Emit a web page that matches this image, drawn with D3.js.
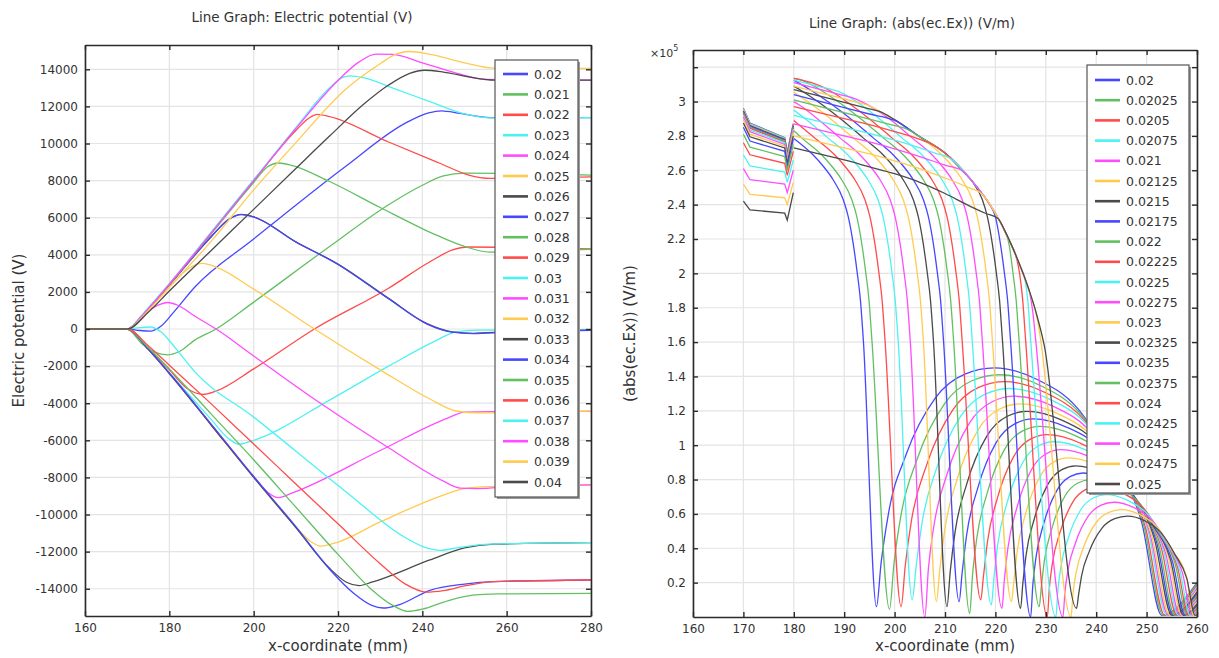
<!DOCTYPE html>
<html>
<head>
<meta charset="utf-8">
<script src="https://cdn.jsdelivr.net/npm/d3@7"></script>
<style>
  body { margin: 0; background: #fff; }
  svg text { font-family: "DejaVu Sans", sans-serif; fill: #333; }
</style>
</head>
<body>
<svg id="chart" width="1219" height="658"></svg>
<script>
// ---------- left panel: electric potential (V) vs x (mm) ----------
var potentialLabels = ["0.02","0.021","0.022","0.023","0.024","0.025","0.026","0.027","0.028","0.029","0.03",
                       "0.031","0.032","0.033","0.034","0.035","0.036","0.037","0.038","0.039","0.04"];
var potentialXTicks = [160,180,200,220,240,260,280];
var potentialYTicks = [-14000,-12000,-10000,-8000,-6000,-4000,-2000,0,2000,4000,6000,8000,10000,12000,14000];

var v020 = [[160,0],[170,0],[173,-80],[175.5,-110],[178,150],[181,900],[186,2250],[200,4850],[221.7,8750],[236,11100],[241.5,11650],[244.5,11760],[249,11620],[256,11400],[280,11390]];
var v021 = [[160,0],[170,0],[173.5,-800],[176.5,-1250],[179.6,-1390],[182.5,-1200],[186,-600],[191.1,0],[200,1450],[218,4450],[232,6700],[240,7750],[245,8250],[250,8400],[280,8300]];
var v022 = [[160,0],[170,0],[175,-1050],[180,-2200],[184.5,-3250],[187.9,-3520],[191,-3350],[200,-2150],[214.4,0],[232,2200],[242,3650],[247,4250],[251,4420],[280,4320]];
var v023 = [[160,0],[170,0],[175,-1100],[180,-2350],[190,-4900],[194,-5900],[196.6,-6210],[200,-6000],[218,-3830],[232,-2000],[243,-650],[248,-150],[253,-60],[280,-40]];
var v024 = [[160,0],[170,0],[175,-1100],[180,-2400],[190,-5150],[200,-7950],[203.3,-8800],[205.9,-9090],[209,-8850],[230,-6550],[246,-4800],[250,-4480],[256,-4450],[280,-4440]];
var v025 = [[160,0],[170,0],[175,-1100],[180,-2400],[190,-5200],[200,-8000],[210,-10650],[213.5,-11450],[216,-11700],[219,-11560],[230,-10400],[245,-8950],[250,-8600],[256,-8500],[280,-8400]];
var v026 = [[160,0],[170,0],[175,-1100],[180,-2400],[190,-5200],[200,-8000],[210,-10700],[218,-12900],[222,-13650],[225,-13830],[228,-13650],[241.8,-12450],[250,-11800],[257,-11600],[280,-11520]];
var v027 = [[160,0],[170,0],[175,-1080],[180,-2370],[190,-5150],[200,-7950],[210,-10650],[218,-12950],[224,-14300],[228,-14900],[230.7,-15040],[234,-14900],[242,-14070],[250,-13750],[257,-13620],[280,-13530]];
var v028 = [[160,0],[170,0],[175,-1000],[180,-2150],[190,-4600],[200,-7050],[210,-9600],[220,-12150],[228,-14050],[233,-14900],[236.5,-15220],[240,-15100],[246,-14650],[252,-14350],[258,-14280],[280,-14250]];
var v029 = [[160,0],[170,0],[175,-900],[180,-1950],[190,-4050],[200,-6200],[210,-8350],[220,-10500],[230,-12650],[236,-13750],[241,-14180],[245,-14100],[250,-13850],[257,-13620],[280,-13530]];
var v030 = [[160,0],[170,0],[173,80],[175.5,110],[178,-150],[181,-900],[186,-2300],[200,-4750],[221.7,-8740],[236,-11250],[241,-11800],[244.2,-11930],[248.5,-11780],[256,-11600],[280,-11520]];
var v031 = [[160,0],[170,0],[174,850],[177,1250],[179.6,1430],[182,1280],[186,700],[191.1,0],[200,-1450],[215.5,-3950],[232,-6400],[245,-8200],[249,-8580],[253,-8600],[262,-8480],[280,-8400]];
var v032 = [[160,0],[170,0],[175,1050],[180,2250],[184.5,3250],[187.9,3540],[191,3350],[200,2150],[214.4,0],[230,-2200],[242,-3800],[248,-4420],[253,-4520],[280,-4420]];
var v033 = [[160,0],[170,0],[175,1100],[180,2380],[190,5000],[194,5900],[197.1,6180],[200,6050],[210,4700],[220,3500],[232,1650],[241,300],[247,-150],[252,-230],[260,-150],[280,-60]];
var v034 = [[160,0],[170,0],[175,1090],[180,2370],[190,4990],[194,5890],[197.1,6170],[200,6040],[210,4690],[220,3480],[232,1630],[241,280],[247,-170],[252,-250],[260,-170],[280,-70]];
var v035 = [[160,0],[170,0],[175,1100],[180,2400],[190,5150],[200,7900],[203.3,8750],[205.9,8950],[209,8820],[218,7950],[230,6550],[242,5200],[250,4450],[256,4150],[264,4200],[280,4300]];
var v036 = [[160,0],[170,0],[175,1100],[180,2400],[190,5200],[200,8000],[210,10700],[213,11350],[215.1,11570],[218,11450],[232,10080],[244,8950],[251,8300],[256,8120],[264,8120],[280,8200]];
var v037 = [[160,0],[170,0],[175,1150],[180,2450],[190,5250],[200,8050],[210,10850],[218,13000],[221,13550],[223,13650],[226,13550],[234,12900],[241.3,12300],[250,11600],[256,11380],[280,11390]];
var v038 = [[160,0],[170,0],[175,1100],[180,2420],[190,5200],[200,8000],[210,10800],[220,13400],[225,14400],[229,14820],[233,14800],[240,14350],[248,13800],[255,13450],[280,13420]];
var v039 = [[160,0],[170,0],[175,1000],[180,2250],[190,4750],[200,7500],[210,10050],[221.7,12900],[230,14300],[234,14850],[237,14960],[241,14850],[250,14350],[257,14060],[280,14050]];
var v040 = [[160,0],[170,0],[175,900],[180,2050],[190,4250],[200,6450],[210,8650],[218,10400],[226,12100],[232,13150],[237,13780],[240.5,13950],[245,13850],[252,13550],[257,13420],[280,13420]];

var potentialCurves = [v020,v021,v022,v023,v024,v025,v026,v027,v028,v029,v030,
                       v031,v032,v033,v034,v035,v036,v037,v038,v039,v040];

// ---------- right panel: abs(Ex) (x1e5 V/m) vs x (mm) ----------
var exLabels = ["0.02","0.02025","0.0205","0.02075","0.021","0.02125","0.0215","0.02175","0.022","0.02225","0.0225",
                "0.02275","0.023","0.02325","0.0235","0.02375","0.024","0.02425","0.0245","0.02475","0.025"];
var exXTicks = [160,170,180,190,200,210,220,230,240,250,260];
var exYTicks = [0.2,0.4,0.6,0.8,1,1.2,1.4,1.6,1.8,2,2.2,2.4,2.6,2.8,3,3.2];

// first domain (170..180 mm), same x stations for every series
var exInletX = [170,171.3,178.2,178.7,179.9];
var exInlet = [
  [2.96,2.875,2.79,2.70,2.87],
  [2.96,2.87,2.79,2.70,2.87],
  [2.955,2.87,2.785,2.70,2.87],
  [2.955,2.87,2.785,2.695,2.865],
  [2.95,2.865,2.78,2.695,2.865],
  [2.95,2.865,2.78,2.69,2.86],
  [2.945,2.86,2.78,2.69,2.86],
  [2.94,2.855,2.775,2.685,2.855],
  [2.935,2.85,2.77,2.68,2.85],
  [2.93,2.845,2.765,2.675,2.845],
  [2.92,2.835,2.76,2.67,2.84],
  [2.91,2.825,2.75,2.66,2.83],
  [2.895,2.81,2.74,2.65,2.82],
  [2.875,2.795,2.73,2.64,2.80],
  [2.85,2.77,2.71,2.62,2.78],
  [2.81,2.735,2.68,2.60,2.75],
  [2.76,2.69,2.64,2.57,2.71],
  [2.69,2.625,2.59,2.53,2.66],
  [2.61,2.545,2.52,2.47,2.60],
  [2.52,2.46,2.44,2.40,2.53],
  [2.42,2.37,2.35,2.31,2.47]
];

// second domain (180..260 mm)
var e0200 = [[180,2.785],[183.8,2.69],[185.8,2.625],[187.8,2.545],[189.8,2.43],[190.8,2.33],[191.8,2.17],[192.6,2.0],[193.2,1.85],[193.8,1.61],[196.4,0.06],[197.34,0.319],[198.74,0.595],[202.25,0.943],[208.1,1.276],[213.95,1.414],[219.8,1.45],[228.1,1.385],[236.4,1.211],[243.04,0.906],[249.02,0.551],[253,0.01],[260,0.2]];
var e0203 = [[180,2.83],[181.5,2.79],[185.5,2.69],[187.5,2.625],[189.5,2.545],[191.5,2.43],[192.5,2.33],[193.5,2.17],[194.3,2.0],[194.9,1.85],[195.5,1.61],[199,0.045],[199.87,0.31],[201.18,0.578],[204.45,0.917],[209.9,1.241],[215.35,1.375],[220.8,1.41],[228.93,1.347],[237.05,1.177],[243.55,0.881],[249.4,0.536],[253.3,0.01],[260,0.195]];
var e0205 = [[180,2.89],[184.1,2.79],[188.1,2.69],[190.1,2.625],[192.1,2.545],[194.1,2.43],[195.1,2.33],[196.1,2.17],[196.9,2.0],[197.5,1.85],[198.1,1.61],[201.3,0.06],[202.12,0.301],[203.35,0.562],[206.43,0.891],[211.55,1.206],[216.68,1.336],[221.8,1.37],[229.75,1.308],[237.7,1.144],[244.06,0.856],[249.78,0.521],[253.6,0.01],[260,0.185]];
var e0208 = [[180,2.95],[182.7,2.89],[186.7,2.79],[190.7,2.69],[192.7,2.625],[194.7,2.545],[196.7,2.43],[197.7,2.33],[198.7,2.17],[199.5,2.0],[200.1,1.85],[200.7,1.61],[203.5,0.1],[204.27,0.293],[205.43,0.545],[208.33,0.865],[213.15,1.17],[217.98,1.297],[222.8,1.33],[230.6,1.27],[238.4,1.111],[244.64,0.831],[250.26,0.505],[254,0.01],[260,0.175]];
var e0210 = [[180,3.0],[181.1,2.98],[185.1,2.89],[189.1,2.79],[193.1,2.69],[195.1,2.625],[197.1,2.545],[199.1,2.43],[200.1,2.33],[201.1,2.17],[201.9,2.0],[202.5,1.85],[203.1,1.61],[206,0.0],[206.71,0.283],[207.78,0.527],[210.45,0.835],[214.9,1.131],[219.35,1.253],[223.8,1.285],[231.43,1.227],[239.05,1.073],[245.15,0.803],[250.64,0.488],[254.3,0.01],[260,0.165]];
var e0213 = [[180,3.054],[183.7,2.98],[187.7,2.89],[191.7,2.79],[195.7,2.69],[197.7,2.625],[199.7,2.545],[201.7,2.43],[202.7,2.33],[203.7,2.17],[204.5,2.0],[205.1,1.85],[205.7,1.61],[208.3,0.09],[208.96,0.273],[209.96,0.508],[212.45,0.806],[216.6,1.091],[220.75,1.209],[224.9,1.24],[232.33,1.184],[239.75,1.035],[245.69,0.775],[251.04,0.471],[254.6,0.01],[260,0.155]];
var e0215 = [[180,3.09],[181.7,3.06],[185.7,2.98],[189.7,2.89],[193.7,2.79],[197.7,2.69],[199.7,2.625],[201.7,2.545],[203.7,2.43],[204.7,2.33],[205.7,2.17],[206.5,2.0],[207.1,1.85],[207.7,1.61],[210.4,0.06],[211.03,0.263],[211.98,0.491],[214.35,0.778],[218.3,1.053],[222.25,1.167],[226.2,1.197],[233.4,1.143],[240.6,0.999],[246.36,0.748],[251.54,0.455],[255,0.01],[260,0.145]];
var e0218 = [[180,3.125],[183.7,3.06],[187.7,2.98],[191.7,2.89],[195.7,2.79],[199.7,2.69],[201.7,2.625],[203.7,2.545],[205.7,2.43],[206.7,2.33],[207.7,2.17],[208.5,2.0],[209.1,1.85],[209.7,1.61],[212.8,0.09],[213.39,0.254],[214.27,0.473],[216.48,0.749],[220.15,1.015],[223.83,1.124],[227.5,1.153],[234.45,1.101],[241.4,0.963],[246.96,0.721],[251.96,0.438],[255.3,0.01],[260,0.135]];
var e0220 = [[180,3.135],[181.7,3.123],[185.7,3.06],[189.7,2.98],[193.7,2.89],[197.7,2.79],[201.7,2.69],[203.7,2.625],[205.7,2.545],[207.7,2.43],[208.7,2.33],[209.7,2.17],[210.5,2.0],[211.1,1.85],[211.7,1.61],[214.9,0.02],[215.46,0.244],[216.29,0.455],[218.38,0.722],[221.85,0.977],[225.33,1.082],[228.8,1.11],[235.5,1.06],[242.2,0.927],[247.56,0.694],[252.38,0.422],[255.6,0.01],[260,0.125]];
var e0223 = [[180,3.135],[183.4,3.111],[187.4,3.06],[191.4,2.98],[195.4,2.89],[199.4,2.79],[203.4,2.69],[205.4,2.625],[207.4,2.545],[209.4,2.43],[210.4,2.33],[211.4,2.17],[212.2,2.0],[212.8,1.85],[213.4,1.61],[217.1,0.1],[217.62,0.234],[218.41,0.435],[220.38,0.69],[223.65,0.935],[226.93,1.035],[230.2,1.062],[236.65,1.014],[243.1,0.887],[248.26,0.664],[252.9,0.404],[256,0.01],[260,0.115]];
var e0225 = [[180,3.125],[185,3.0875],[189.4,3.052],[193.4,2.98],[197.4,2.89],[201.4,2.79],[205.4,2.69],[207.4,2.625],[209.4,2.545],[211.4,2.43],[212.4,2.33],[213.4,2.17],[214.2,2.0],[214.8,1.85],[215.4,1.61],[219.2,0.07],[219.7,0.224],[220.44,0.418],[222.3,0.663],[225.4,0.898],[228.5,0.995],[231.6,1.02],[237.78,0.974],[243.95,0.852],[248.89,0.638],[253.34,0.388],[256.3,0.01],[260,0.105]];
var e0228 = [[180,3.11],[185,3.0725],[190,3.035],[191.4,3.0245],[195.4,2.969],[199.4,2.89],[203.4,2.79],[207.4,2.69],[209.4,2.625],[211.4,2.545],[213.4,2.43],[214.4,2.33],[215.4,2.17],[216.2,2.0],[216.8,1.85],[217.4,1.61],[221.3,0.05],[221.77,0.214],[222.47,0.399],[224.23,0.633],[227.15,0.857],[230.08,0.95],[233,0.974],[238.9,0.93],[244.8,0.813],[249.52,0.609],[253.77,0.37],[256.6,0.01],[260,0.095]];
var e0230 = [[180,3.09],[185,3.0525],[190,3.015],[193.4,2.9895],[195,2.975],[197.4,2.937],[201.4,2.867],[205.4,2.785],[209.4,2.689],[211.4,2.625],[213.4,2.545],[215.4,2.43],[216.4,2.33],[217.4,2.17],[218.2,2.0],[218.8,1.85],[219.4,1.61],[223.2,0.09],[223.65,0.204],[224.32,0.38],[226,0.602],[228.8,0.815],[231.6,0.903],[234.4,0.926],[240.05,0.884],[245.7,0.773],[250.22,0.579],[254.29,0.352],[257,0.01],[260,0.085]];
var e0233 = [[180,3.07],[185,3.0325],[190,2.995],[195,2.9575],[197,2.9425],[200,2.895],[205,2.795],[210,2.70],[213.4,2.598],[215.4,2.535],[217.4,2.43],[218.4,2.33],[219.4,2.17],[220.2,2.0],[220.8,1.85],[221.4,1.61],[225,0.05],[225.44,0.194],[226.09,0.361],[227.73,0.572],[230.45,0.774],[233.18,0.858],[235.9,0.88],[241.25,0.84],[246.6,0.735],[250.88,0.55],[254.73,0.334],[257.3,0.01],[260,0.075]];
var e0235 = [[180,3.04],[185,3.0025],[190,2.965],[195,2.9275],[200,2.89],[205,2.795],[210,2.70],[215,2.55],[217,2.477],[219,2.395],[220,2.33],[221,2.17],[221.8,2.0],[222.4,1.85],[223,1.61],[227,0.0],[227.42,0.184],[228.04,0.344],[229.6,0.545],[232.2,0.737],[234.8,0.817],[237.4,0.838],[242.45,0.8],[247.5,0.7],[251.54,0.524],[255.18,0.318],[257.6,0.01],[260,0.065]];
var e0238 = [[180,3.01],[185,2.9725],[190,2.935],[195,2.8975],[200,2.86],[202,2.845],[205,2.795],[210,2.70],[215,2.55],[218.7,2.409],[220.7,2.312],[221.7,2.257],[222.7,2.17],[223.5,2.0],[224.1,1.85],[224.7,1.61],[228.7,0.06],[229.11,0.176],[229.72,0.328],[231.25,0.52],[233.8,0.704],[236.35,0.78],[238.9,0.8],[243.68,0.764],[248.45,0.668],[252.27,0.5],[255.71,0.304],[258,0.01],[260,0.055]];
var e0240 = [[180,2.97],[185,2.935],[190,2.90],[195,2.865],[200,2.825],[205,2.78],[206.5,2.764],[210,2.70],[215,2.55],[220,2.35],[222,2.24],[223,2.175],[224,2.11],[224.8,2.0],[225.4,1.85],[226,1.61],[230.3,0.0],[230.7,0.167],[231.31,0.312],[232.83,0.494],[235.35,0.669],[237.88,0.741],[240.4,0.76],[244.88,0.726],[249.35,0.635],[252.93,0.475],[256.15,0.289],[258.3,0.01],[260,0.045]];
var e0243 = [[180,2.92],[185,2.885],[190,2.85],[195,2.815],[200,2.775],[205,2.73],[208,2.70],[211,2.67],[215,2.55],[220,2.35],[223,2.175],[224,2.11],[225,2.035],[225.8,1.975],[226.4,1.85],[227,1.61],[232,0.0],[232.4,0.157],[233,0.292],[234.5,0.463],[237,0.627],[239.5,0.694],[242,0.712],[246.15,0.68],[250.3,0.595],[253.62,0.445],[256.61,0.271],[258.6,0.01],[260,0.035]];
var e0245 = [[180,2.87],[185,2.835],[190,2.80],[195,2.765],[200,2.725],[205,2.68],[210,2.63],[213.3,2.60],[215,2.55],[218,2.44],[220,2.35],[223,2.175],[225,2.035],[226,1.96],[226.8,1.888],[227.4,1.78],[228,1.61],[233.4,0.0],[233.8,0.147],[234.41,0.274],[235.93,0.434],[238.45,0.588],[240.98,0.651],[243.5,0.668],[247.38,0.638],[251.25,0.558],[254.35,0.418],[257.14,0.254],[259,0.01],[260,0.028]];
var e0248 = [[180,2.8],[185,2.765],[190,2.73],[195,2.695],[200,2.655],[205,2.61],[210,2.555],[213,2.52],[215,2.495],[217,2.47],[218,2.44],[220,2.35],[223,2.175],[225,2.035],[227,1.87],[227.8,1.798],[228.4,1.72],[229,1.61],[235,0.0],[235.4,0.138],[236,0.256],[237.5,0.406],[240,0.55],[242.5,0.609],[245,0.625],[248.58,0.597],[252.15,0.522],[255.01,0.391],[257.88,0.238],[259.3,0.01],[260,0.02]];
var e0250 = [[180,2.73],[185,2.695],[190,2.66],[195,2.62],[200,2.58],[205,2.53],[210,2.465],[215,2.39],[218,2.35],[220.5,2.32],[222,2.24],[224,2.11],[226,1.96],[228,1.78],[229.7,1.58],[236.1,0.05],[236.5,0.129],[237.11,0.241],[238.63,0.382],[241.15,0.517],[243.68,0.572],[246.2,0.587],[249.55,0.561],[252.9,0.49],[255.58,0.367],[257.99,0.223],[259.6,0.01],[260,0.012]];

var exCurves = [e0200,e0203,e0205,e0208,e0210,e0213,e0215,e0218,e0220,e0223,e0225,
                e0228,e0230,e0233,e0235,e0238,e0240,e0243,e0245,e0248,e0250];

var palette = ["#4747ff","#62c062","#ff4b4b","#4cf2f2","#ff4cff","#ffcb4f","#4a4a4a"];

var svg = d3.select("#chart");

function drawPanel(cfg) {
    var g = svg.append("g");
    var x = d3.scaleLinear().domain(cfg.xDomain).range([cfg.left, cfg.right]);
    var y = d3.scaleLinear().domain(cfg.yDomain).range([cfg.bottom, cfg.top]);

    // gridlines
    g.selectAll(".vgrid").data(cfg.xTicks).enter().append("line")
        .attr("x1", function (d) { return x(d); }).attr("x2", function (d) { return x(d); })
        .attr("y1", cfg.top).attr("y2", cfg.bottom)
        .attr("stroke", "#e4e4e4").attr("stroke-width", 1.2);
    g.selectAll(".hgrid").data(cfg.yTicks).enter().append("line")
        .attr("x1", cfg.left).attr("x2", cfg.right)
        .attr("y1", function (d) { return y(d); }).attr("y2", function (d) { return y(d); })
        .attr("stroke", "#e4e4e4").attr("stroke-width", 1.2);

    var clipId = "clip" + cfg.name;
    svg.append("clipPath").attr("id", clipId).append("rect")
        .attr("x", cfg.left).attr("y", cfg.top)
        .attr("width", cfg.right - cfg.left).attr("height", cfg.bottom - cfg.top);

    var lines = g.append("g").attr("clip-path", "url(#" + clipId + ")");
    var smooth = d3.line()
        .x(function (d) { return x(d[0]); })
        .y(function (d) { return y(d[1]); })
        .curve(d3.curveMonotoneX);
    var straight = d3.line()
        .x(function (d) { return x(d[0]); })
        .y(function (d) { return y(d[1]); });

    cfg.curves.forEach(function (pts, i) {
        var col = palette[i % palette.length];
        if (cfg.inlet) {
            var seg = cfg.inletX.map(function (xv, j) { return [xv, cfg.inlet[i][j]]; });
            lines.append("path").attr("d", straight(seg))
                .attr("fill", "none").attr("stroke", col).attr("stroke-width", 1.3);
        }
        lines.append("path").attr("d", smooth(pts))
            .attr("fill", "none").attr("stroke", col).attr("stroke-width", 1.3);
    });

    // axes, ticks pointing inwards on all four sides
    var fmt = cfg.format;
    var bottom = g.append("g").attr("transform", "translate(0," + cfg.bottom + ")")
        .call(d3.axisBottom(x).tickValues(cfg.xTicks).tickSize(-5).tickSizeOuter(0).tickPadding(7));
    var top = g.append("g").attr("transform", "translate(0," + cfg.top + ")")
        .call(d3.axisTop(x).tickValues(cfg.xTicks).tickSize(-5).tickSizeOuter(0).tickFormat(""));
    var left = g.append("g").attr("transform", "translate(" + cfg.left + ",0)")
        .call(d3.axisLeft(y).tickValues(cfg.yTicks).tickSize(-5).tickSizeOuter(0).tickPadding(7)
            .tickFormat(function (d) { return cfg.hideY.indexOf(d) >= 0 ? "" : fmt(d); }));
    var right = g.append("g").attr("transform", "translate(" + cfg.right + ",0)")
        .call(d3.axisRight(y).tickValues(cfg.yTicks).tickSize(-5).tickSizeOuter(0).tickFormat(""));

    [bottom, top, left, right].forEach(function (a) {
        a.select(".domain").attr("stroke", "#2a2a2a").attr("stroke-width", 1.6);
        a.selectAll(".tick line").attr("stroke", "#2a2a2a").attr("stroke-width", 1.4);
        a.selectAll("text").attr("font-size", 12).attr("fill", "#333")
            .attr("font-family", "DejaVu Sans, sans-serif");
    });

    // legend
    var lg = g.append("g");
    lg.append("rect").attr("x", cfg.legend.x + 2).attr("y", cfg.legend.y + 2)
        .attr("width", cfg.legend.w).attr("height", cfg.legend.h).attr("fill", "#9a9a9a");
    lg.append("rect").attr("x", cfg.legend.x).attr("y", cfg.legend.y)
        .attr("width", cfg.legend.w).attr("height", cfg.legend.h)
        .attr("fill", "#fff").attr("stroke", "#555").attr("stroke-width", 1.2);
    var rows = lg.selectAll(".row").data(cfg.labels).enter().append("g")
        .attr("transform", function (d, i) { return "translate(0," + (cfg.legend.y0 + i * cfg.legend.dy) + ")"; });
    rows.append("line")
        .attr("x1", cfg.legend.lx1).attr("x2", cfg.legend.lx2).attr("y1", 0).attr("y2", 0)
        .attr("stroke", function (d, i) { return palette[i % palette.length]; })
        .attr("stroke-width", 2.6);
    rows.append("text").attr("x", cfg.legend.tx).attr("y", 0).attr("dy", "0.36em")
        .attr("font-size", 12.5).text(function (d) { return d; });

    // titles
    svg.append("text").attr("x", cfg.titleX).attr("y", cfg.titleY)
        .attr("text-anchor", "middle").attr("font-size", 13.5).attr("fill", "#444")
        .text(cfg.title);
    svg.append("text").attr("x", (cfg.left + cfg.right) / 2).attr("y", 651)
        .attr("text-anchor", "middle").attr("font-size", 15).text(cfg.xLabel);
    svg.append("text")
        .attr("transform", "translate(" + cfg.yLabelX + "," + ((cfg.top + cfg.bottom) / 2) + ") rotate(-90)")
        .attr("text-anchor", "middle").attr("font-size", 15).text(cfg.yLabel);
}

drawPanel({
    name: "phi", left: 85, right: 591, top: 45, bottom: 616,
    xDomain: [160, 280], yDomain: [-15470, 15310],
    xTicks: potentialXTicks, yTicks: potentialYTicks, hideY: [],
    format: function (d) { return String(d); },
    curves: potentialCurves, labels: potentialLabels,
    legend: { x: 495, y: 60, w: 83, h: 437, y0: 74, dy: 20.4, lx1: 503, lx2: 528, tx: 534 },
    title: "Line Graph: Electric potential (V)", titleX: 302, titleY: 22,
    xLabel: "x-coordinate (mm)", yLabel: "Electric potential (V)", yLabelX: 24
});

drawPanel({
    name: "ex", left: 693, right: 1197, top: 50, bottom: 617,
    xDomain: [160, 260], yDomain: [0, 3.3],
    xTicks: exXTicks, yTicks: exYTicks, hideY: [3.2],
    format: function (d) { return String(+d.toFixed(1)); },
    curves: exCurves, labels: exLabels, inlet: exInlet, inletX: exInletX,
    legend: { x: 1087, y: 65, w: 102, h: 428, y0: 80, dy: 20.2, lx1: 1095, lx2: 1120, tx: 1126 },
    title: "Line Graph: (abs(ec.Ex)) (V/m)", titleX: 912, titleY: 28,
    xLabel: "x-coordinate (mm)", yLabel: "(abs(ec.Ex)) (V/m)", yLabelX: 635
});

// exponent marker of the right y axis
var expo = svg.append("text").attr("x", 650).attr("y", 57).attr("font-size", 11).attr("fill", "#333");
expo.append("tspan").text("\u00d710");
expo.append("tspan").attr("dy", -6).attr("font-size", 8).text("5");
</script>
</body>
</html>
